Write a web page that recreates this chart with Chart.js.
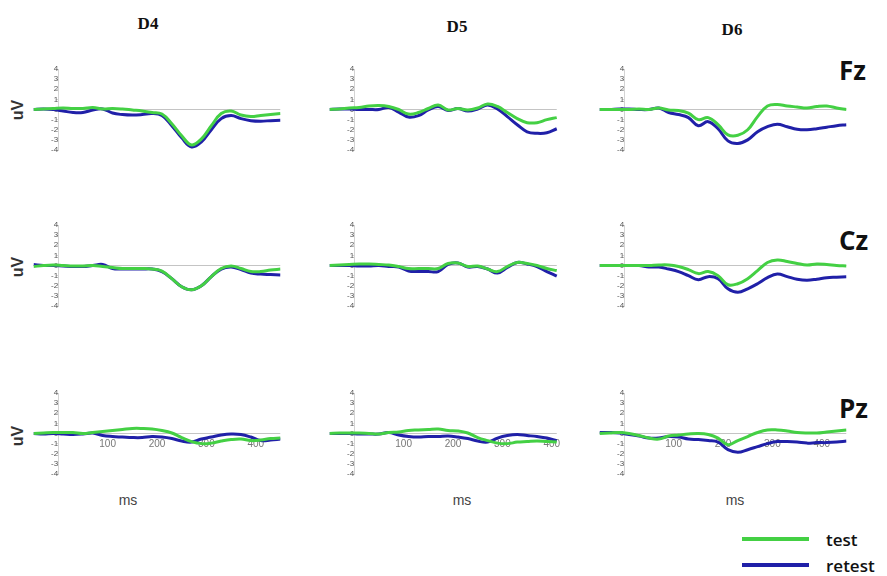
<!DOCTYPE html>
<html>
<head>
<meta charset="utf-8">
<script src="https://cdn.jsdelivr.net/npm/chart.js@4.4.0/dist/chart.umd.min.js"></script>
<style>
    body { margin: 0; background: #fff; }
    #stage { position: relative; width: 887px; height: 576px; overflow: hidden; background: #fff; font-family: Arial, "Liberation Sans", sans-serif; }
    .panel { position: absolute; }
    .title { position: absolute; transform: translate(-50%, -50%); font-family: "Liberation Serif", "Times New Roman", serif; font-weight: bold; font-size: 17px; color: #111; }
    .site { position: absolute; transform: translateY(-50%); font-family: "Open Sans", sans-serif; font-weight: 700; font-size: 26px; color: #111; }
    .uv { position: absolute; transform: translate(-50%, -50%) rotate(-90deg); font-weight: bold; font-size: 16px; color: #333; }
    .ms { position: absolute; transform: translate(-50%, -50%); font-size: 14px; color: #444; }
    .key-line { position: absolute; width: 67px; height: 4px; }
    .key-text { position: absolute; transform: translateY(-50%); font-family: "Open Sans", sans-serif; font-weight: 600; font-size: 17px; color: #111; }
</style>
</head>
<body>
<div id="stage">
    <div class="title" style="left:148px; top:24px;">D4</div>
    <div class="title" style="left:457px; top:27px;">D5</div>
    <div class="title" style="left:732px; top:30px;">D6</div>

    <div class="site" style="left:839px; top:70px;">Fz</div>
    <div class="site" style="left:839px; top:240px;">Cz</div>
    <div class="site" style="left:839px; top:408px;">Pz</div>

    <div class="uv" style="left:18px; top:110px;">uV</div>
    <div class="uv" style="left:18px; top:267px;">uV</div>
    <div class="uv" style="left:18px; top:436px;">uV</div>

    <div class="ms" style="left:128px; top:500px;">ms</div>
    <div class="ms" style="left:462px; top:500px;">ms</div>
    <div class="ms" style="left:735px; top:500px;">ms</div>

    <div class="key-line" style="left:742px; top:537px; background:#44d044;"></div>
    <div class="key-text" style="left:826px; top:539px;">test</div>
    <div class="key-line" style="left:742px; top:563px; background:#2020a8;"></div>
    <div class="key-text" style="left:826px; top:565px;">retest</div>
</div>

<script>
// ERP waveforms, test vs retest, three sessions (D4-D6) x three sites (Fz, Cz, Pz)

const GREEN = '#44d044';
const BLUE = '#2020a8';

// sample times in ms (D5 traces stop at 410 ms)
const timeMs = [-50, -30, -10, 10, 30, 50, 70, 90, 110, 130, 150, 170, 190, 210, 230, 250, 270, 290, 310, 330, 350, 370, 390, 410, 430, 450];
const xTickValues = [100, 200, 300, 400];
const yTickValues = [-4, -3, -2, -1, 0, 1, 2, 3, 4];

// amplitudes in uV
const testD4Fz = [0.0, 0.05, 0.1, 0.15, 0.1, 0.1, 0.2, 0.05, 0.1, 0.05, -0.05, -0.15, -0.3, -0.45, -1.4, -2.6, -3.5, -2.9, -1.6, -0.4, -0.15, -0.55, -0.7, -0.6, -0.5, -0.4];
const retestD4Fz = [0.0, 0.05, 0.0, -0.15, -0.3, -0.3, -0.05, 0.05, -0.35, -0.5, -0.55, -0.5, -0.4, -0.6, -1.6, -2.8, -3.7, -3.2, -2.0, -0.9, -0.6, -0.9, -1.1, -1.15, -1.1, -1.05];
const testD5Fz = [0.0, 0.05, 0.15, 0.2, 0.35, 0.4, 0.3, 0.0, -0.45, -0.3, 0.1, 0.45, -0.05, 0.1, -0.05, 0.15, 0.55, 0.3, -0.3, -0.9, -1.3, -1.3, -1.0, -0.8];
const retestD5Fz = [0.0, 0.05, 0.05, 0.0, 0.0, 0.0, 0.2, -0.25, -0.75, -0.6, -0.05, 0.3, -0.1, 0.1, -0.15, 0.05, 0.45, 0.05, -0.7, -1.5, -2.2, -2.35, -2.3, -1.9];
const testD6Fz = [0.0, 0.0, 0.0, 0.0, 0.05, 0.0, 0.15, -0.05, -0.1, -0.35, -1.0, -0.8, -1.5, -2.5, -2.55, -2.0, -0.7, 0.35, 0.5, 0.35, 0.25, 0.15, 0.3, 0.35, 0.15, 0.0];
const retestD6Fz = [0.0, 0.0, 0.05, 0.05, 0.0, 0.0, 0.15, -0.3, -0.5, -0.8, -1.6, -1.2, -1.9, -3.1, -3.35, -3.0, -2.2, -1.7, -1.45, -1.7, -1.95, -2.0, -1.9, -1.75, -1.6, -1.5];

const testD4Cz = [-0.1, 0.0, 0.05, 0.0, -0.05, -0.05, 0.0, -0.1, -0.2, -0.3, -0.3, -0.3, -0.35, -0.55, -1.3, -2.1, -2.4, -2.0, -1.1, -0.3, -0.05, -0.3, -0.6, -0.6, -0.45, -0.35];
const retestD4Cz = [0.1, 0.0, 0.0, -0.05, -0.1, -0.1, 0.0, 0.1, -0.3, -0.35, -0.35, -0.35, -0.35, -0.6, -1.3, -2.1, -2.4, -2.0, -1.1, -0.35, -0.15, -0.4, -0.75, -0.85, -0.9, -0.95];
const testD5Cz = [0.0, 0.05, 0.1, 0.15, 0.15, 0.1, 0.05, -0.1, -0.3, -0.3, -0.3, -0.3, 0.2, 0.25, -0.1, -0.05, -0.35, -0.6, -0.1, 0.3, 0.2, 0.0, -0.3, -0.5];
const retestD5Cz = [0.0, 0.0, 0.0, -0.05, -0.05, 0.0, -0.1, -0.15, -0.55, -0.6, -0.6, -0.6, 0.1, 0.25, -0.15, -0.1, -0.35, -0.75, -0.2, 0.3, 0.15, -0.1, -0.6, -1.05];
const testD6Cz = [0.0, 0.0, 0.0, 0.0, 0.0, 0.0, 0.05, 0.05, -0.1, -0.4, -0.8, -0.6, -1.0, -1.9, -1.8, -1.3, -0.5, 0.3, 0.55, 0.4, 0.2, 0.05, 0.15, 0.1, 0.0, -0.05];
const retestD6Cz = [0.0, 0.0, 0.0, 0.0, 0.0, -0.15, -0.15, -0.35, -0.6, -1.0, -1.4, -1.1, -1.3, -2.3, -2.65, -2.3, -1.8, -1.2, -0.85, -1.1, -1.35, -1.45, -1.35, -1.2, -1.15, -1.1];

const testD4Pz = [0.0, 0.05, 0.1, 0.1, 0.1, 0.0, 0.1, 0.2, 0.3, 0.4, 0.5, 0.5, 0.45, 0.3, 0.05, -0.4, -0.8, -1.0, -0.95, -0.75, -0.6, -0.55, -0.7, -0.65, -0.5, -0.45];
const retestD4Pz = [0.0, -0.05, 0.0, -0.05, -0.1, -0.05, 0.05, -0.2, -0.3, -0.35, -0.4, -0.4, -0.3, -0.35, -0.5, -0.75, -0.85, -0.55, -0.35, -0.15, -0.05, -0.1, -0.35, -0.7, -0.65, -0.55];
const testD5Pz = [0.0, 0.05, 0.05, 0.05, 0.0, -0.05, 0.1, 0.15, 0.3, 0.35, 0.4, 0.45, 0.3, 0.25, 0.05, -0.4, -0.7, -0.95, -1.0, -0.85, -0.8, -0.75, -0.8, -0.85];
const retestD5Pz = [0.0, 0.0, 0.0, -0.05, -0.05, -0.05, 0.1, -0.15, -0.3, -0.35, -0.3, -0.3, -0.25, -0.35, -0.5, -0.75, -0.85, -0.45, -0.2, -0.1, -0.2, -0.3, -0.45, -0.7];
const testD6Pz = [0.0, 0.05, 0.1, 0.0, -0.2, -0.45, -0.55, -0.25, -0.15, -0.05, 0.0, -0.1, -0.45, -1.1, -0.7, -0.3, 0.1, 0.35, 0.35, 0.25, 0.1, 0.05, 0.05, 0.15, 0.25, 0.35];
const retestD6Pz = [0.1, 0.1, 0.05, -0.1, -0.25, -0.45, -0.45, -0.3, -0.35, -0.55, -0.6, -0.7, -0.85, -1.6, -1.85, -1.6, -1.3, -1.0, -0.8, -0.8, -0.85, -0.95, -0.9, -0.9, -0.85, -0.75];

// plot-area boxes on the page (x = -50 ms at left edge, y = +4 uV at top)
const colLeft = [32, 328, 598];
const rowTop = [69, 225, 393];
const plotWidth = 250;
const plotHeight = 81;

const panels = [
    { col: 0, row: 0, test: testD4Fz, retest: retestD4Fz },
    { col: 1, row: 0, test: testD5Fz, retest: retestD5Fz },
    { col: 2, row: 0, test: testD6Fz, retest: retestD6Fz },
    { col: 0, row: 1, test: testD4Cz, retest: retestD4Cz },
    { col: 1, row: 1, test: testD5Cz, retest: retestD5Cz },
    { col: 2, row: 1, test: testD6Cz, retest: retestD6Cz },
    { col: 0, row: 2, test: testD4Pz, retest: retestD4Pz },
    { col: 1, row: 2, test: testD5Pz, retest: retestD5Pz },
    { col: 2, row: 2, test: testD6Pz, retest: retestD6Pz }
];

function toPoints(values) {
    return values.map((v, i) => ({ x: timeMs[i], y: v }));
}

function makePanel(p) {
    const stage = document.getElementById('stage');
    const wrap = document.createElement('div');
    wrap.className = 'panel';
    const canvas = document.createElement('canvas');
    canvas.width = plotWidth;
    canvas.height = plotHeight + 20;
    wrap.appendChild(canvas);
    stage.appendChild(wrap);

    const endMs = timeMs[p.test.length - 1];
    const showX = p.row === 2;

    const chart = new Chart(canvas, {
        type: 'line',
        data: {
            datasets: [{
                label: 'test',
                data: toPoints(p.test),
                borderColor: GREEN,
                borderWidth: 3,
                pointRadius: 0,
                tension: 0.4
            }, {
                label: 'retest',
                data: toPoints(p.retest),
                borderColor: BLUE,
                borderWidth: 3,
                pointRadius: 0,
                tension: 0.4
            }, {
                label: 'baseline',
                data: [{ x: 0, y: 0 }, { x: endMs, y: 0 }],
                borderColor: '#c4c4c4',
                borderWidth: 1,
                pointRadius: 0
            }]
        },
        options: {
            responsive: false,
            maintainAspectRatio: false,
            animation: false,
            events: [],
            layout: { padding: 0 },
            plugins: {
                legend: { display: false },
                tooltip: { enabled: false }
            },
            scales: {
                x: {
                    type: 'linear',
                    min: -50,
                    max: 450,
                    position: { y: 0 },
                    display: showX,
                    grid: { display: false, drawTicks: false },
                    border: { display: false },
                    ticks: {
                        color: '#777',
                        font: { size: 10, family: 'Arial' },
                        padding: 5
                    },
                    afterBuildTicks: scale => {
                        scale.ticks = xTickValues.map(v => ({ value: v }));
                    },
                    afterFit: scale => { scale.height = 0; }
                },
                y: {
                    type: 'linear',
                    min: -4,
                    max: 4,
                    position: { x: 0 },
                    grid: { drawOnChartArea: false, drawTicks: true, tickLength: 2, color: '#d4d4d4' },
                    border: { display: true, color: '#d4d4d4', width: 1 },
                    ticks: {
                        autoSkip: false,
                        color: '#555',
                        font: { size: 8, family: 'Arial', lineHeight: 1 },
                        padding: 4
                    },
                    afterBuildTicks: scale => {
                        scale.ticks = yTickValues.map(v => ({ value: v }));
                    },
                    afterFit: scale => { scale.width = 0; }
                }
            }
        }
    });

    // shift/resize so the plot area lands on its box
    const area = chart.chartArea;
    const padL = area.left;
    const padT = area.top;
    const padR = chart.width - area.right;
    const padB = chart.height - area.bottom;
    chart.resize(plotWidth + padL + padR, plotHeight + padT + padB);
    wrap.style.left = (colLeft[p.col] - padL) + 'px';
    wrap.style.top = (rowTop[p.row] - padT) + 'px';
}

panels.forEach(makePanel);
</script>
</body>
</html>
